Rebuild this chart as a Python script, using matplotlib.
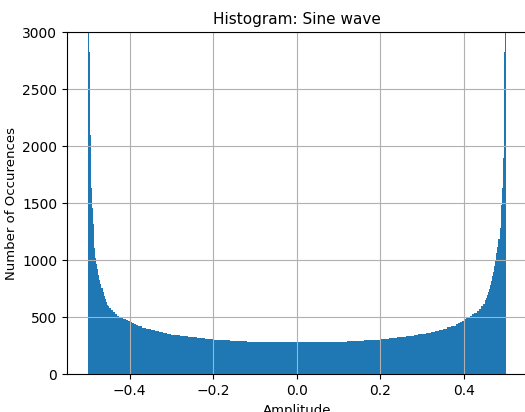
import matplotlib
matplotlib.use("Agg")
import matplotlib.pyplot as plt
import numpy as np

# bin edges (fine near the edges of the amplitude range, coarse in the middle)
left_edges = np.concatenate([
    np.linspace(-0.5, -0.45, 21),
    np.linspace(-0.445, -0.38, 14),
    np.linspace(-0.37, -0.20, 18),
    np.linspace(-0.18, 0.0, 10),
])
edges = np.concatenate([left_edges, -left_edges[::-1][1:]])

# counts, left half (from -0.5 up to 0)
counts_left = [
    6000, 2830, 2100, 1630, 1455, 1320, 1110, 1020, 965, 920,
    875, 830, 790, 755, 720, 690, 660, 635, 612, 595,
    578, 562, 546, 528, 515, 504, 494, 486, 477, 469,
    461, 452, 443, 434,
    422, 410, 398, 386, 376, 368, 360, 353, 347, 341,
    336, 332, 328, 324, 320, 316, 312, 308,
    302, 297, 292, 289, 286, 284, 282, 281, 280, 280,
]
# counts, right half (from 0 up to 0.5)
counts_right = [
    280, 280, 281, 282, 284, 286, 290, 293, 298, 303,
    309, 313, 317, 321, 325, 330, 334, 339, 345, 351,
    357, 362, 369, 378, 388, 399, 411, 426,
    442, 452, 462, 471, 482, 492, 503, 515, 528, 541,
    556, 574, 595, 620,
    648, 672, 698, 724, 752, 785, 820, 858, 900, 950,
    1005, 1060, 1120, 1190, 1280, 1485, 1635, 1900, 2830, 6000,
]
counts = counts_left + counts_right
centers = 0.5 * (edges[:-1] + edges[1:])

fig = plt.figure(figsize=(5.25, 4.12), dpi=100)
ax = fig.add_axes([67 / 525, 1 - 374.3 / 412, (526.7 - 67) / 525, (374.3 - 32.3) / 412])

ax.hist(centers, bins=edges, weights=counts, color='#1f77b4')
ax.set_xlim(-0.55, 0.55)
ax.set_ylim(0, 3000)
ax.set_xticks([-0.4, -0.2, 0.0, 0.2, 0.4])
ax.set_yticks(np.arange(0, 3001, 500))
ax.grid(True)
ax.set_title('Histogram: Sine wave', fontsize=11)
ax.set_xlabel('Amplitude', fontsize=9.5)
ax.set_ylabel('Number of Occurences', fontsize=9.5, labelpad=3)

plt.savefig('out.png', dpi=100)
